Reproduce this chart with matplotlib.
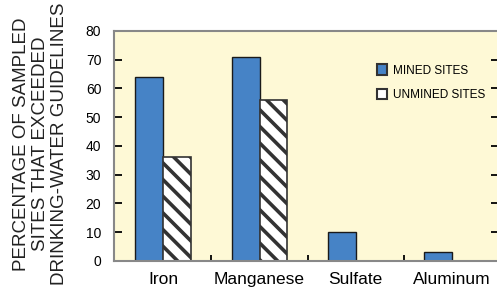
import matplotlib.pyplot as plt
import matplotlib.patches as mpatches
import numpy as np

plt.rcParams['font.family'] = ['Liberation Sans', 'DejaVu Sans']
plt.rcParams['hatch.linewidth'] = 2.6

# Data
categories = ['Iron', 'Manganese', 'Sulfate', 'Aluminum']
mined = [64, 71, 10, 3]
unmined = [36, 56, 0, 0]

fig = plt.figure(figsize=(4.97, 2.88), dpi=100)
ax = fig.add_axes([0.229, 0.094, 0.775, 0.799])
ax.set_facecolor('#fef9d6')

x = np.arange(len(categories))
w = 0.29
ax.bar(x - w, mined, width=w, align='edge', color='#4683c6',
       edgecolor='#1a1a1a', linewidth=1.0, label='MINED SITES')
for xi, v in zip(x, unmined):
    if v > 0:
        ax.bar(xi, v, width=w, align='edge', color='white',
               edgecolor='#333333', linewidth=1.2, hatch='\\\\')

ax.set_xlim(-0.515, 3.49)
ax.set_ylim(0, 80)

# ticks
ax.set_yticks(range(0, 81, 10))
ax.tick_params(axis='y', direction='in', length=6, width=1.3, color='black',
               labelsize=10, pad=9, right=True)
ax.set_xticks(x)
ax.set_xticklabels(categories, fontsize=12.5)
ax.tick_params(axis='x', which='major', length=0, pad=8)
ax.set_xticks([0.5, 1.5, 2.5], minor=True)
ax.tick_params(axis='x', which='minor', direction='in', length=4, width=1.3,
               color='black')

for s in ['top', 'left', 'bottom']:
    ax.spines[s].set_color('#888888')
    ax.spines[s].set_linewidth(1.5)
ax.spines['right'].set_visible(False)

# y label (three lines)
fig.text(0.082, 0.5, 'PERCENTAGE OF SAMPLED\nSITES THAT EXCEEDED\nDRINKING-WATER GUIDELINES',
         rotation=90, ha='center', va='center', fontsize=13.5,
         linespacing=1.15, color='#222222')

# legend
h1 = mpatches.Patch(facecolor='#4683c6', edgecolor='#333333', linewidth=1.5)
h2 = mpatches.Patch(facecolor='white', edgecolor='#333333', linewidth=1.5,
                    hatch='\\')
ax.legend([h1, h2], ['MINED SITES', 'UNMINED SITES'], loc='upper left',
          bbox_to_anchor=(0.655, 0.9), frameon=False, fontsize=8.5,
          handlelength=0.85, handleheight=1.0, handletextpad=0.5,
          labelspacing=1.0)

fig.savefig('out.png', dpi=100)
